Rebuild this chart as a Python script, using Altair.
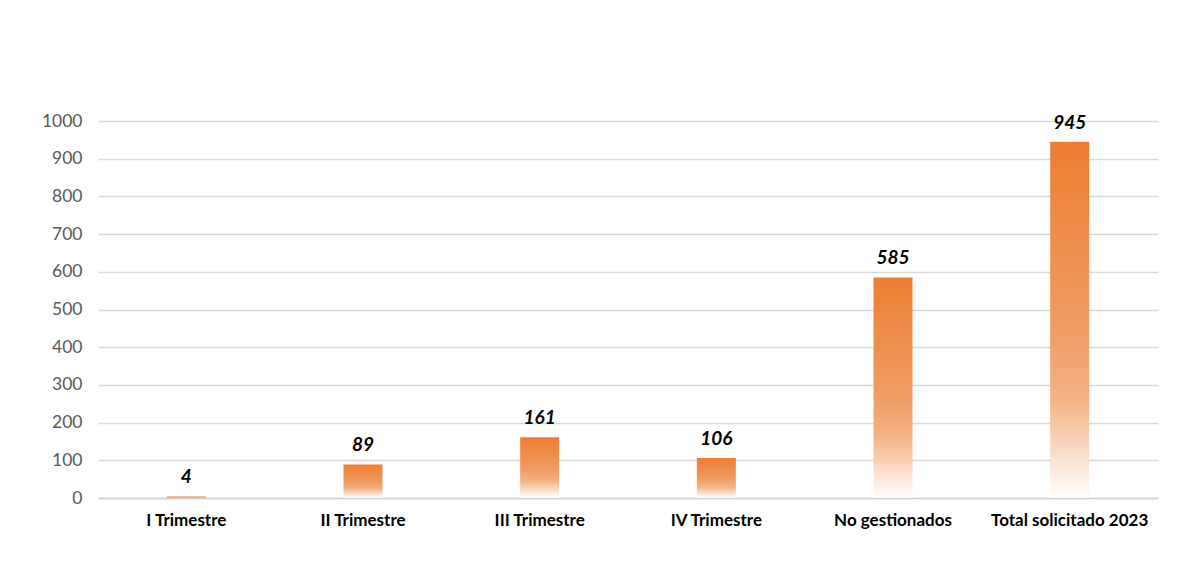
import altair as alt
import pandas as pd

categories = ["I Trimestre", "II Trimestre", "III Trimestre", "IV Trimestre",
              "No gestionados", "Total solicitado 2023"]
values = [4, 89, 161, 106, 585, 945]
y_ticks = [0, 100, 200, 300, 400, 500, 600, 700, 800, 900, 1000]

df = pd.DataFrame({"cat": categories, "val": values})

grad = alt.Gradient(
    gradient="linear",
    stops=[
        alt.GradientStop(color="#ED7D31", offset=0),
        alt.GradientStop(color="#F09E66", offset=0.55),
        alt.GradientStop(color="#F3B285", offset=0.72),
        alt.GradientStop(color="#FFFFFF", offset=1),
    ],
    x1=0, x2=0, y1=0, y2=1,
)

x = alt.X("cat:N", sort=categories, title=None,
          scale=alt.Scale(paddingInner=0, paddingOuter=0),
          axis=alt.Axis(labelAngle=0, labelFont="Lato", labelFontWeight="bold",
                        labelFontSize=17, labelColor="#000000", labelPadding=14,
                        ticks=False, domainColor="#D0D0D0", domainWidth=1.5))
y = alt.Y("val:Q", title=None,
          scale=alt.Scale(domain=[0, 1000], nice=False),
          axis=alt.Axis(values=y_ticks, domain=False, ticks=False,
                        format="d", labelOverlap=False,
                        labelFont="Lato", labelFontSize=17.5, labelColor="#595959",
                        labelPadding=16, gridColor="#D9D9D9", gridWidth=1.5))

bars = alt.Chart(df).mark_bar(size=39, color=grad).encode(x=x, y=y)
labels = alt.Chart(df).mark_text(dy=-19, font="Lato", fontSize=19, fontWeight="bold",
                                 fontStyle="italic", color="#000000").encode(
    x=x, y=y, text="val:Q")

chart = (bars + labels).properties(
    width=1060, height=377,
    padding={"left": 90, "top": 113, "right": 20, "bottom": 50},
    autosize=alt.AutoSizeParams(type="none"),
).configure(background="#FFFFFF").configure_view(stroke=None)

chart.save("out.html", embed_options={"renderer": "svg", "actions": False})
